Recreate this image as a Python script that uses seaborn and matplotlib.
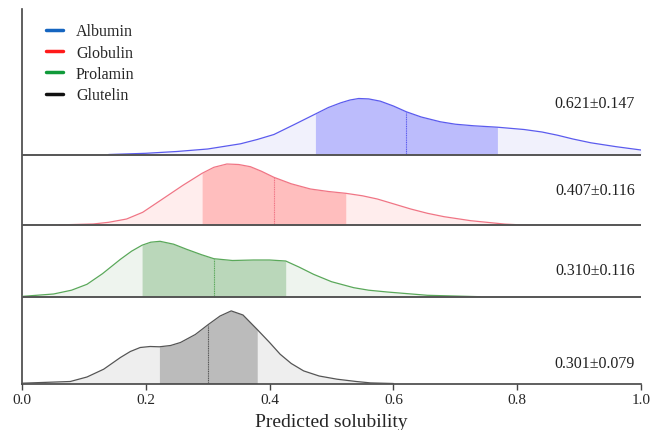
import numpy as np
import pandas as pd
import matplotlib
matplotlib.use("Agg")
import matplotlib.pyplot as plt
from matplotlib.lines import Line2D
import seaborn as sns

# ---------------- data ----------------
groups = ["Albumin", "Globulin", "Prolamin", "Glutelin"]
means = [0.621, 0.407, 0.310, 0.301]
sds = [0.147, 0.116, 0.116, 0.079]
labels = ["0.621\u00b10.147", "0.407\u00b10.116", "0.310\u00b10.116", "0.301\u00b10.079"]

alb_x = [0.14, 0.20, 0.25, 0.30, 0.353, 0.38, 0.407, 0.44, 0.474, 0.495, 0.515, 0.53,
         0.544, 0.56, 0.579, 0.60, 0.621, 0.645, 0.676, 0.70, 0.730, 0.768, 0.811,
         0.84, 0.865, 0.89, 0.919, 0.96, 1.0]
alb_h = [0.0, 1.2, 3.0, 5.5, 10.7, 15.0, 20.0, 30.0, 40.5, 47.0, 51.7, 54.5,
         56.0, 55.6, 53.3, 48.5, 42.7, 37.5, 32.7, 30.3, 28.7, 27.3, 25.0,
         22.5, 19.3, 15.5, 11.7, 7.8, 4.5]

glo_x = [0.06, 0.115, 0.14, 0.169, 0.195, 0.223, 0.260, 0.291, 0.31, 0.331, 0.35,
         0.369, 0.387, 0.407, 0.435, 0.466, 0.495, 0.523, 0.55, 0.574, 0.60, 0.628,
         0.655, 0.682, 0.725, 0.78, 0.82]
glo_h = [0.4, 1.3, 3.0, 6.3, 13.0, 24.6, 40.0, 52.0, 58.0, 61.3, 60.8,
         58.6, 54.0, 48.0, 41.5, 36.3, 33.8, 32.0, 29.5, 26.3, 21.5, 16.3,
         12.0, 8.6, 4.6, 1.2, 0.0]

pro_x = [0.0, 0.051, 0.08, 0.105, 0.13, 0.159, 0.177, 0.194, 0.208, 0.223, 0.245,
         0.266, 0.29, 0.310, 0.34, 0.374, 0.40, 0.426, 0.448, 0.471, 0.50, 0.536,
         0.56, 0.590, 0.655, 0.74]
pro_h = [0.3, 2.7, 6.5, 12.4, 23.0, 37.4, 45.5, 51.5, 54.5, 55.4, 52.5,
         47.4, 42.0, 38.0, 36.2, 36.7, 36.7, 35.7, 29.5, 22.4, 15.0, 9.0,
         6.5, 4.7, 1.4, 0.0]

glu_x = [0.0, 0.078, 0.105, 0.132, 0.159, 0.175, 0.191, 0.207, 0.222, 0.24, 0.256,
         0.28, 0.301, 0.32, 0.338, 0.357, 0.380, 0.40, 0.417, 0.435, 0.455, 0.48,
         0.509, 0.54, 0.563, 0.60]
glu_h = [0.3, 2.0, 6.5, 14.3, 26.0, 32.0, 36.0, 37.0, 36.7, 38.0, 41.0,
         49.0, 59.0, 67.5, 72.6, 68.5, 54.0, 41.0, 29.3, 20.0, 12.6, 7.5,
         4.3, 2.0, 0.6, 0.0]

xs = [alb_x, glo_x, pro_x, glu_x]
hs = [alb_h, glo_h, pro_h, glu_h]

x_ticks = [0.0, 0.2, 0.4, 0.6, 0.8, 1.0]
x_label = "Predicted solubility"

# ---------------- styles ----------------
line_colors = ["#5b5bee", "#f07585", "#5aa85a", "#555555"]
light_fill = ["#f1f1fc", "#ffeded", "#eef4ee", "#eeeeee"]
dark_fill = ["#bcbcfc", "#ffbebe", "#bad7ba", "#bbbbbb"]
legend_colors = ["#1565c0", "#ff1a1a", "#109a3a", "#111111"]
offsets = [229.0, 158.2, 86.8, 0.0]   # baseline of each ridge (reference pixels)
label_y = [280.0, 193.0, 113.5, 21.0]

sns.set_theme(style="white")
plt.rcParams["font.family"] = ["Liberation Serif", "DejaVu Serif"]

fig = plt.figure(figsize=(6.51, 4.31), dpi=100)
ax = fig.add_axes([22 / 651, 1 - 384.5 / 431, 619 / 651, 374.5 / 431])

rows = []
for g, x, h, off in zip(groups, xs, hs, offsets):
    for xi, hi in zip(x, h):
        rows.append({"group": g, "x": xi, "y": off + hi})
df = pd.DataFrame(rows)

sns.lineplot(data=df, x="x", y="y", hue="group", palette=dict(zip(groups, line_colors)),
             estimator=None, sort=False, legend=False, linewidth=0.9, ax=ax, zorder=3)

for i, g in enumerate(groups):
    x = np.array(xs[i])
    y = np.array(hs[i]) + offsets[i]
    ax.fill_between(x, offsets[i], y, color=light_fill[i], lw=0, zorder=1)
    lo, hi = means[i] - sds[i], means[i] + sds[i]
    m = (x >= lo - 1e-9) & (x <= hi + 1e-9)
    ax.fill_between(x[m], offsets[i], y[m], color=dark_fill[i], lw=0, zorder=2)
    ym = y[np.argmin(np.abs(x - means[i]))]
    ax.plot([means[i], means[i]], [offsets[i], ym], color=line_colors[i], lw=0.8,
            ls=(0, (1, 0.6)), zorder=3)
    if offsets[i] > 0:
        ax.axhline(offsets[i], color="#555555", lw=1.4, zorder=4)
    ax.text(0.99, label_y[i], labels[i], ha="right", va="center", fontsize=11.5,
            color="#222222")

ax.set_xlim(0, 1)
ax.set_ylim(0, 374.5)
ax.set_xticks(x_ticks)
ax.set_xticklabels([f"{t:.1f}" for t in x_ticks], fontsize=11)
ax.set_yticks([])
ax.set_ylabel("")
ax.set_xlabel(x_label, fontsize=14, labelpad=5)
ax.tick_params(axis="x", direction="out", length=4, width=1, color="#444444",
               bottom=True, pad=3)
for s in ["top", "right"]:
    ax.spines[s].set_visible(False)
for s in ["left", "bottom"]:
    ax.spines[s].set_color("#444444")
    ax.spines[s].set_linewidth(1.2)

handles = [Line2D([0], [0], color=c, lw=2.5) for c in legend_colors]
ax.legend(handles, groups, loc="upper left", bbox_to_anchor=(0.015, 1.0), frameon=False,
          fontsize=11.5, handlelength=1.1, handletextpad=0.8, labelspacing=0.33)

fig.savefig("out.png", dpi=100)
